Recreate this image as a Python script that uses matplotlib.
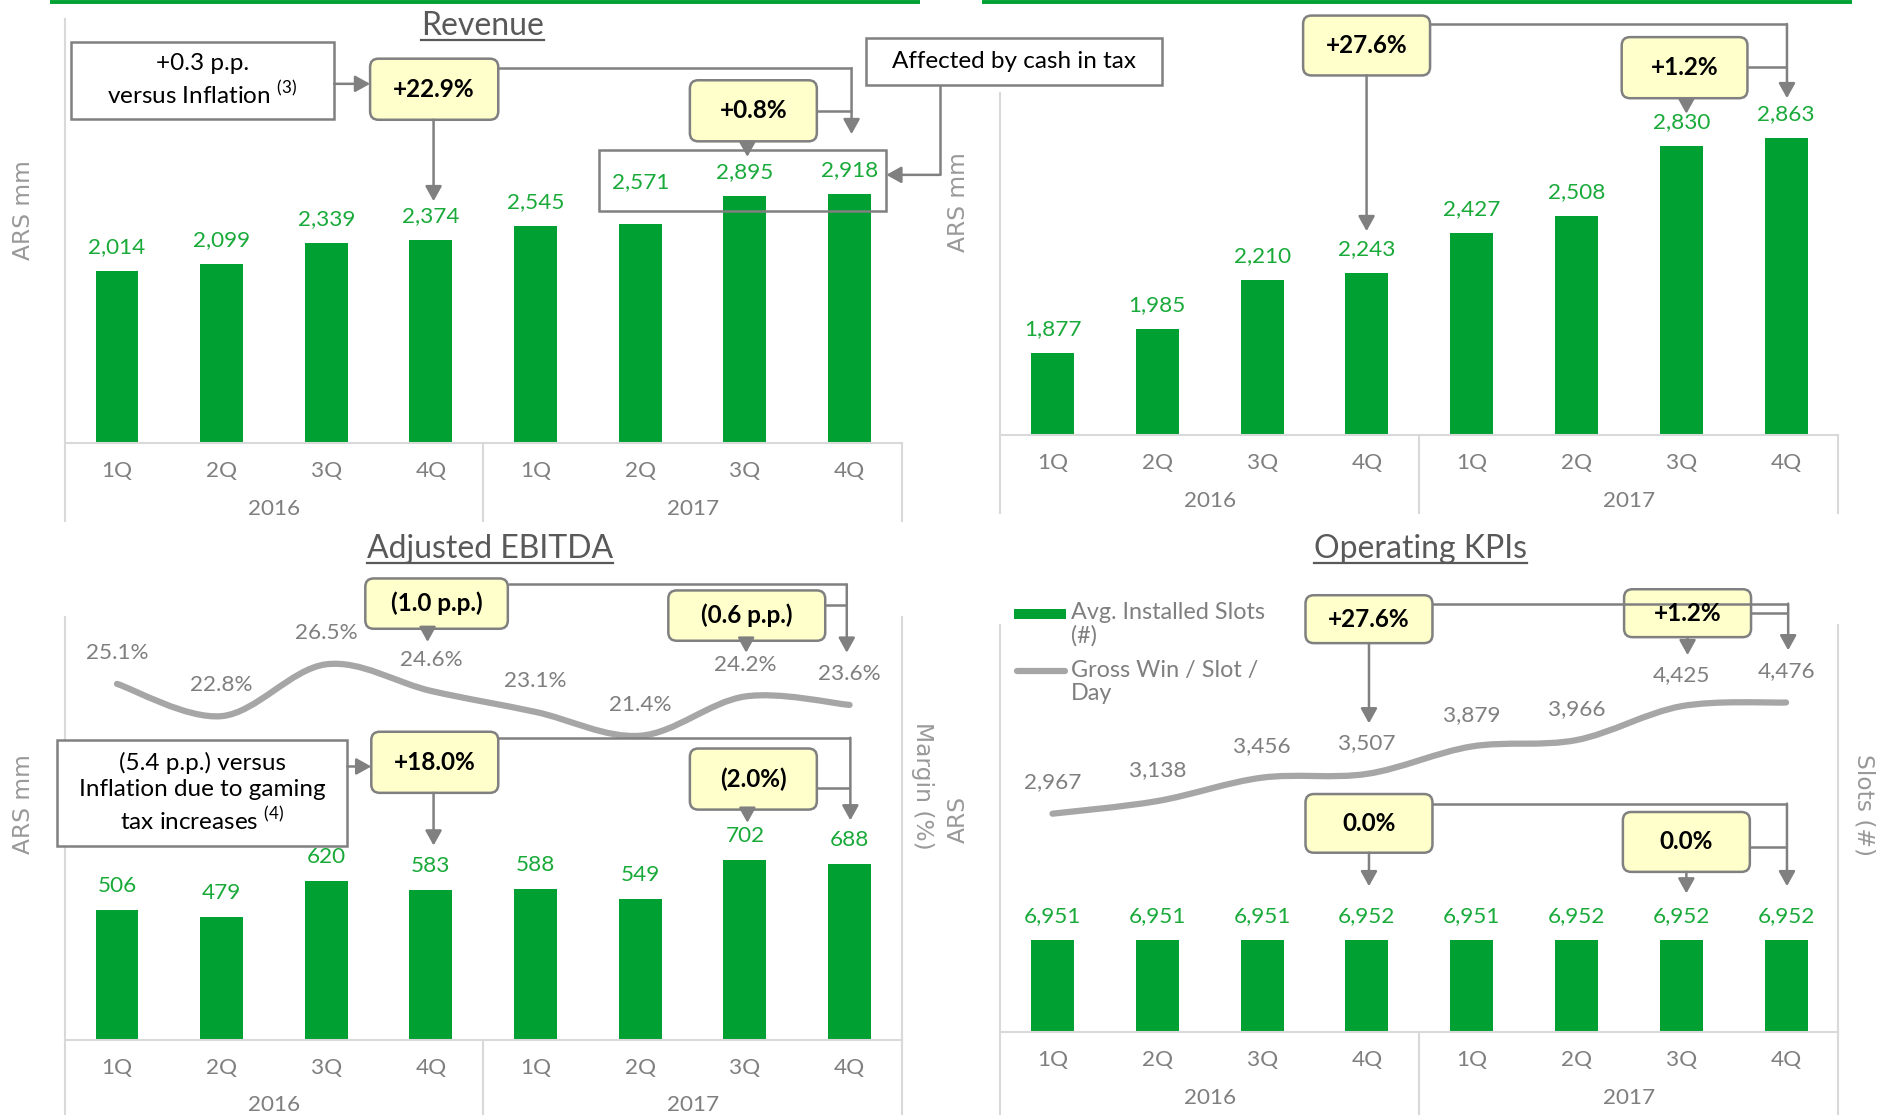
import numpy as np
import matplotlib.pyplot as plt
from matplotlib.patches import FancyBboxPatch, Rectangle, PathPatch
from matplotlib.path import Path

plt.rcParams['font.family'] = ['Lato', 'DejaVu Sans']
plt.rcParams['mathtext.fontset'] = 'custom'
plt.rcParams['mathtext.rm'] = 'Lato'

quarters = ['1Q', '2Q', '3Q', '4Q', '1Q', '2Q', '3Q', '4Q']
years = ['2016', '2017']

revenue = [2014, 2099, 2339, 2374, 2545, 2571, 2895, 2918]
revenue_2 = [1877, 1985, 2210, 2243, 2427, 2508, 2830, 2863]
ebitda = [506, 479, 620, 583, 588, 549, 702, 688]
ebitda_margin = [25.1, 22.8, 26.5, 24.6, 23.1, 21.4, 24.2, 23.6]
slots = [6951, 6951, 6951, 6952, 6951, 6952, 6952, 6952]
gross_win = [2967, 3138, 3456, 3507, 3879, 3966, 4425, 4476]

GREEN = '#00A032'
LABEL_GREEN = '#19AA3A'
GRAY_TXT = '#7F7F7F'
TITLE_GRAY = '#595959'
LINE_GRAY = '#A6A6A6'
ARROW_GRAY = '#808080'
AXIS_GRAY = '#D9D9D9'
YELLOW = '#FFFFCC'

# layout units: reference picture scaled to 1568 x 931
W, H = 1568, 931
PT = 1878 / W * 0.72   # points per layout unit
FS = 16.2

fig = plt.figure(figsize=(18.78, 11.15), dpi=100)


def panel_axes(x0, y0, x1, y1):
    return fig.add_axes([x0 / W, 1 - y1 / H, (x1 - x0) / W, (y1 - y0) / H])


def style_axes(ax, drop):
    ax.set_xlim(-0.5, 7.5)
    ax.set_yticks([])
    ax.patch.set_alpha(0)
    for side in ['top', 'right']:
        ax.spines[side].set_visible(False)
    for side in ['left', 'bottom']:
        ax.spines[side].set_color(AXIS_GRAY)
        ax.spines[side].set_linewidth(1.5)
    ax.set_xticks(range(len(quarters)), quarters)
    ax.tick_params(axis='x', length=0, pad=13, labelsize=FS, labelcolor=GRAY_TXT)
    tr = ax.get_xaxis_transform()
    h = ax.get_position().height * H
    for xv in (-0.5, 3.5, 7.5):
        ax.plot([xv, xv], [0, -drop / h], transform=tr, color=AXIS_GRAY, lw=1.5, clip_on=False)
    for k, yr in enumerate(years):
        ax.annotate(yr, xy=(1.5 + 4 * k, 0), xycoords=tr, xytext=(0, -55 * PT),
                    textcoords='offset points', ha='center', va='center',
                    fontsize=FS, color=GRAY_TXT)


def bars(ax, values, lift=None):
    lift = lift or {}
    x = np.arange(len(values))
    ax.bar(x, values, width=0.41, color=GREEN, zorder=2)
    for i, v in enumerate(values):
        ax.annotate(f'{v:,}', (i, v), xytext=(0, lift.get(i, 20) * PT), textcoords='offset points',
                    ha='center', va='center', color=LABEL_GREEN, fontsize=FS)


def smooth_line(ax, values, labels):
    pts = np.column_stack([np.arange(len(values)), values]).astype(float)
    n = len(pts)
    verts, codes = [pts[0]], [Path.MOVETO]
    for i in range(n - 1):
        p0 = pts[max(i - 1, 0)]
        p1, p2 = pts[i], pts[i + 1]
        p3 = pts[min(i + 2, n - 1)]
        verts += [p1 + (p2 - p0) / 6, p2 - (p3 - p1) / 6, p2]
        codes += [Path.CURVE4] * 3
    ax.add_patch(PathPatch(Path(verts, codes), fc='none', ec=LINE_GRAY, lw=4.5,
                           capstyle='round', zorder=3))
    for i, (v, lab) in enumerate(zip(values, labels)):
        ax.annotate(lab, (i, v), xytext=(0, 26 * PT), textcoords='offset points',
                    ha='center', va='center', color=GRAY_TXT, fontsize=FS)


# ---------------- Revenue (top left)
ax1 = panel_axes(54, 16, 753, 370)
ax1.set_ylim(0, 4965)
style_axes(ax1, 65)
bars(ax1, revenue, lift={5: 35})

# ---------------- top right
ax2 = panel_axes(835, 78, 1535, 363)
ax2.set_ylim(1500, 3070)
style_axes(ax2, 65)
bars(ax2, revenue_2)

# ---------------- Adjusted EBITDA (bottom left)
ax3 = panel_axes(54, 515, 753, 868)
ax3.set_ylim(0, 1653)
style_axes(ax3, 63)
bars(ax3, ebitda)
ax3b = ax3.twinx()
ax3b.set_ylim(-0.28, 29.89)
ax3b.set_yticks([])
for side in ['top', 'left', 'bottom']:
    ax3b.spines[side].set_visible(False)
ax3b.spines['right'].set_color(AXIS_GRAY)
ax3b.spines['right'].set_linewidth(1.5)
smooth_line(ax3b, ebitda_margin, [f'{m}%' for m in ebitda_margin])

# ---------------- Operating KPIs (bottom right)
ax4 = panel_axes(835, 522, 1535, 862)
ax4.set_ylim(0, 30693)
style_axes(ax4, 69)
bars(ax4, slots)
ax4b = ax4.twinx()
ax4b.set_ylim(0, 5525)
ax4b.set_yticks([])
for side in ['top', 'left', 'bottom']:
    ax4b.spines[side].set_visible(False)
ax4b.spines['right'].set_color(AXIS_GRAY)
ax4b.spines['right'].set_linewidth(1.5)
smooth_line(ax4b, gross_win, [f'{g:,}' for g in gross_win])

# ---------------- overlay for titles, callouts and connectors
ov = fig.add_axes([0, 0, 1, 1], zorder=10)
ov.set_xlim(0, W)
ov.set_ylim(H, 0)
ov.axis('off')


def callout(x0, y0, x1, y1, text, yellow=True, ls=1.2):
    if yellow:
        patch = FancyBboxPatch((x0, y0), x1 - x0, y1 - y0,
                               boxstyle='round,pad=0,rounding_size=7',
                               fc=YELLOW, ec=ARROW_GRAY, lw=1.8)
        weight = 'bold'
    else:
        patch = Rectangle((x0, y0), x1 - x0, y1 - y0, fc='white', ec=ARROW_GRAY, lw=1.8)
        weight = 'normal'
    ov.add_patch(patch)
    ov.text((x0 + x1) / 2, (y0 + y1) / 2, text, ha='center', va='center',
            fontsize=17.5, fontweight=weight, color='black', linespacing=ls)


def connector(points, head=True):
    xs, ys = zip(*points)
    last = -1 if head else len(points)
    if len(points) > 2 or not head:
        ov.plot(xs[:last], ys[:last], color=ARROW_GRAY, lw=1.8, solid_capstyle='butt')
    if head:
        ov.annotate('', xy=points[-1], xytext=points[-2],
                    arrowprops=dict(arrowstyle='-|>,head_length=0.45,head_width=0.25',
                                    color=ARROW_GRAY, lw=1.8, mutation_scale=20,
                                    shrinkA=0, shrinkB=0))


# green header rules
ov.plot([42, 768], [1.8, 1.8], color=GREEN, lw=2.8, solid_capstyle='butt')
ov.plot([820, 1546], [1.8, 1.8], color=GREEN, lw=2.8, solid_capstyle='butt')

# titles (underlined)
titles = []
for tx, ty, t in [(403, 29, 'Revenue'), (409, 466, 'Adjusted EBITDA'), (1186, 466, 'Operating KPIs')]:
    titles.append((ov.text(tx, ty, t, ha='center', va='baseline', fontsize=23, color=TITLE_GRAY), ty))

# axis titles
ytxt = dict(fontsize=16.8, color='#999999', family='DejaVu Sans', ha='center', va='center')
ov.text(20, 175, 'ARS mm', rotation=90, **ytxt)
ov.text(800, 169, 'ARS mm', rotation=90, **ytxt)
ov.text(20, 671, 'ARS mm', rotation=90, **ytxt)
ov.text(770, 656, 'Margin (%)', rotation=270, **ytxt)
ov.text(800, 684, 'ARS', rotation=90, **ytxt)
ov.text(1556, 672, 'Slots (#)', rotation=270, **ytxt)

# Revenue callouts
callout(59, 35, 279, 99, '+0.3 p.p.\nversus Inflation $^{(3)}$', yellow=False, ls=1.25)
connector([(279, 70), (309, 70)])
connector([(416, 57), (711, 57), (711, 112)])
callout(309, 49, 416, 100, '+22.9%')
connector([(362, 100), (362, 168)])
connector([(682, 93), (711, 93)], head=False)
callout(576, 67, 682, 118, '+0.8%')
connector([(624, 118), (624, 131)])
ov.add_patch(Rectangle((500, 125), 240, 51, fc='none', ec=ARROW_GRAY, lw=1.8))
callout(723, 32, 970, 71, 'Affected by cash in tax', yellow=False)
connector([(785, 71), (785, 146), (740, 146)])

# top right callouts
connector([(1194, 20), (1492, 20), (1492, 82)])
callout(1088, 13, 1194, 63, '+27.6%')
connector([(1141, 63), (1141, 193)])
connector([(1459, 56), (1492, 56)], head=False)
callout(1354, 31, 1459, 82, '+1.2%')
connector([(1408, 82), (1408, 95)])

# EBITDA callouts
connector([(424, 488), (707, 488), (707, 545)])
callout(305, 483, 424, 525, '(1.0 p.p.)')
connector([(357, 525), (357, 536)])
connector([(689, 505), (707, 505)], head=False)
callout(558, 493, 689, 535, '(0.6 p.p.)')
connector([(623, 535), (623, 545)])
callout(48, 618, 290, 706, '(5.4 p.p.) versus\nInflation due to gaming\ntax increases $^{(4)}$',
        yellow=False, ls=1.25)
connector([(290, 640), (310, 640)])
connector([(416, 616), (710, 616), (710, 685)])
callout(310, 611, 416, 662, '+18.0%')
connector([(362, 662), (362, 706)])
connector([(682, 658), (710, 658)], head=False)
callout(576, 625, 682, 676, '(2.0%)')
connector([(624, 676), (624, 687)])

# Operating KPI callouts
connector([(1196, 504), (1493, 504), (1493, 543)])
connector([(1462, 512), (1493, 512)], head=False)
callout(1090, 497, 1196, 537, '+27.6%')
connector([(1143, 537), (1143, 604)])
callout(1356, 492, 1462, 532, '+1.2%')
connector([(1409, 532), (1409, 547)])
connector([(1196, 671), (1492, 671), (1492, 740)])
callout(1090, 663, 1196, 712, '0.0%')
connector([(1143, 712), (1143, 740)])
connector([(1461, 707), (1492, 707)], head=False)
callout(1355, 678, 1461, 728, '0.0%')
connector([(1408, 728), (1408, 746)])

# legend for the KPI panel
ov.add_patch(Rectangle((847, 508.5), 43, 8, fc=GREEN, ec='none'))
ov.text(894, 503, 'Avg. Installed Slots\n(#)', ha='left', va='top', fontsize=16.8,
        color=GRAY_TXT, linespacing=1.12)
ov.plot([849, 889], [560, 560], color=LINE_GRAY, lw=4.5, solid_capstyle='round')
ov.text(894, 551, 'Gross Win / Slot /\nDay', ha='left', va='top', fontsize=16.8,
        color=GRAY_TXT, linespacing=1.12)

# underline the titles
fig.canvas.draw()
renderer = fig.canvas.get_renderer()
inv = ov.transData.inverted()
for txt, ty in titles:
    bb = txt.get_window_extent(renderer)
    (xa, _), (xb, _) = inv.transform([[bb.x0, 0], [bb.x1, 0]])
    ov.plot([xa, xb], [ty + 4, ty + 4], color=TITLE_GRAY, lw=1.6)

fig.savefig('out.png', dpi=100)
